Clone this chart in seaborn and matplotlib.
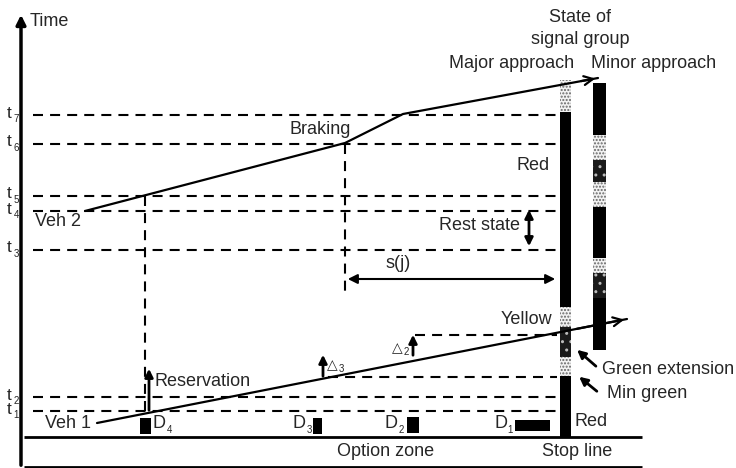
import matplotlib
matplotlib.use('Agg')
import matplotlib.pyplot as plt
import pandas as pd
import seaborn as sns

# all positions are in picture pixels, y grows downwards
time_names = ['1', '2', '3', '4', '5', '6', '7']
time_levels = [411, 397, 250, 211, 196, 144, 115]

# extra guide levels (Delta 2 level, Delta 3 / min green level)
guide_levels = [335, 377]
guide_starts = [415, 328]

veh1_x = [97, 627]
veh1_y = [423, 319]
veh2_x = [85, 345, 403, 598]
veh2_y = [211, 143, 114, 78]

# signal states: top, bottom, state (R red, G green/yellow stipple, E extension)
major_top = [80, 112, 307, 327, 357, 376]
major_bot = [112, 307, 327, 357, 376, 437]
major_state = ['G', 'R', 'G', 'E', 'G', 'R']
minor_top = [83, 135, 160, 182, 207, 258, 273, 298]
minor_bot = [135, 160, 182, 207, 258, 273, 298, 350]
minor_state = ['R', 'G', 'E', 'G', 'R', 'G', 'E', 'R']

det_names = ['4', '3', '2', '1']
det_left = [140, 313, 407, 515]
det_right = [151, 322, 419, 550]
det_top = [418, 418, 417, 420]
det_bot = [434, 434, 433, 431]
det_label_x = [153, 293, 385, 494]

sns.set_style('white')
plt.rcParams['font.family'] = ['Liberation Sans', 'DejaVu Sans']
FS = 13
DASH = (0, (4.8, 3.4))

fig = plt.figure(figsize=(7.36, 4.68), dpi=100)
ax = fig.add_axes([0, 0, 1, 1])


def sub_label(x, y, main, sub, main_w, fs=FS):
    ax.text(x, y, main, fontsize=fs, va='center')
    ax.text(x + main_w, y + 6, sub, fontsize=7, va='center')


# vehicle trajectories
veh = pd.concat([
    pd.DataFrame({'x': veh1_x, 'y': veh1_y, 'veh': 'Veh 1'}),
    pd.DataFrame({'x': veh2_x, 'y': veh2_y, 'veh': 'Veh 2'}),
])
sns.lineplot(data=veh, x='x', y='y', units='veh', estimator=None, sort=False,
             color='black', lw=1.6, ax=ax, legend=False)
ax.set_xlim(0, 736)
ax.set_ylim(468, 0)
ax.axis('off')
for xs, ys in [(veh1_x, veh1_y), (veh2_x, veh2_y)]:
    ax.annotate('', xy=(xs[-1], ys[-1]), xytext=(xs[-2] + 0.9 * (xs[-1] - xs[-2]),
                                                   ys[-2] + 0.9 * (ys[-1] - ys[-2])),
                arrowprops=dict(arrowstyle='->', lw=1.6, color='black', mutation_scale=16))

# time axis
ax.annotate('', xy=(21, 12), xytext=(21, 468),
            arrowprops=dict(arrowstyle='-|>', lw=2.5, color='black', mutation_scale=14))
ax.text(30, 22, 'Time', fontsize=FS, va='center')

# horizontal guides at time levels
ax.hlines(time_levels, 33, 557, colors='black', lw=1.5, linestyles=DASH)
ax.hlines(guide_levels, guide_starts, 557, colors='black', lw=1.5, linestyles=DASH)
for name, lev in zip(time_names, time_levels):
    sub_label(7, lev - 2, 't', name, 6.5, fs=12.5)

# vertical guides
ax.vlines([145], 196, 411, colors='black', lw=1.5, linestyles=DASH)
ax.vlines([345], 144, 293, colors='black', lw=1.5, linestyles=DASH)

# stop line and bottom line
ax.hlines([437, 467], 24, 642, colors='black', lw=2)


def draw_signal(x0, width, tops, bots, states):
    for t, b, s in zip(tops, bots, states):
        if s == 'R':
            ax.bar(x0, b - t, width, bottom=t, align='edge', color='black', lw=0)
        elif s == 'G':
            ax.bar(x0, b - t, width, bottom=t, align='edge', color='#f2f2f2',
                   edgecolor='#666666', hatch='.....', lw=0)
        else:
            ax.bar(x0, b - t, width, bottom=t, align='edge', color='#1a1a1a',
                   edgecolor='#bbbbbb', hatch='..', lw=0)


draw_signal(560, 11, major_top, major_bot, major_state)
draw_signal(593, 13, minor_top, minor_bot, minor_state)

# detectors
for l, r, t, b in zip(det_left, det_right, det_top, det_bot):
    ax.bar(l, b - t, r - l, bottom=t, align='edge', color='black', lw=0)
for name, lx in zip(det_names, det_label_x):
    sub_label(lx, 424, 'D', name, 13.5)

# arrows
arr = dict(arrowstyle='-|>', lw=2, color='black', mutation_scale=12)
ax.annotate('', xy=(149, 366), xytext=(149, 413), arrowprops=arr)
ax.annotate('', xy=(323, 352), xytext=(323, 379), arrowprops=arr)
ax.annotate('', xy=(413, 332), xytext=(413, 358), arrowprops=arr)
ax.annotate('', xy=(529, 207), xytext=(529, 249),
            arrowprops=dict(arrowstyle='<|-|>', lw=2, color='black', mutation_scale=12))
ax.annotate('', xy=(558, 279), xytext=(345, 279),
            arrowprops=dict(arrowstyle='<|-|>', lw=1.5, color='black', mutation_scale=14))
ax.annotate('', xy=(575, 348), xytext=(598, 368), arrowprops=arr)
ax.annotate('', xy=(577, 375), xytext=(599, 393), arrowprops=arr)

# labels
ax.text(580, 18, 'State of', fontsize=FS, ha='center', va='center')
ax.text(580, 40, 'signal group', fontsize=FS, ha='center', va='center')
ax.text(449, 64, 'Major approach', fontsize=FS, va='center')
ax.text(591, 64, 'Minor approach', fontsize=FS, va='center')
ax.text(320, 130, 'Braking', fontsize=FS, ha='center', va='center')
ax.text(533, 166, 'Red', fontsize=FS, ha='center', va='center')
ax.text(520, 226, 'Rest state', fontsize=FS, ha='right', va='center')
ax.text(398, 264, 's(j)', fontsize=FS, ha='center', va='center')
ax.text(35, 222, 'Veh 2', fontsize=FS, va='center')
ax.text(45, 424, 'Veh 1', fontsize=FS, va='center')
ax.text(155, 382, 'Reservation', fontsize=FS, va='center')
ax.text(552, 320, 'Yellow', fontsize=FS, ha='right', va='center')
ax.text(602, 370, 'Green extension', fontsize=FS, va='center')
ax.text(607, 394, 'Min green', fontsize=FS, va='center')
ax.text(575, 422, 'Red', fontsize=FS, va='center')
ax.text(327, 365, '\u25b3', fontsize=10, va='center', family='DejaVu Sans')
ax.text(339, 369, '3', fontsize=7, va='center')
ax.text(392, 348, '\u25b3', fontsize=10, va='center', family='DejaVu Sans')
ax.text(404, 352, '2', fontsize=7, va='center')
ax.text(386, 452, 'Option zone', fontsize=FS, ha='center', va='center')
ax.text(577, 452, 'Stop line', fontsize=FS, ha='center', va='center')

fig.savefig('out.png', dpi=100)
